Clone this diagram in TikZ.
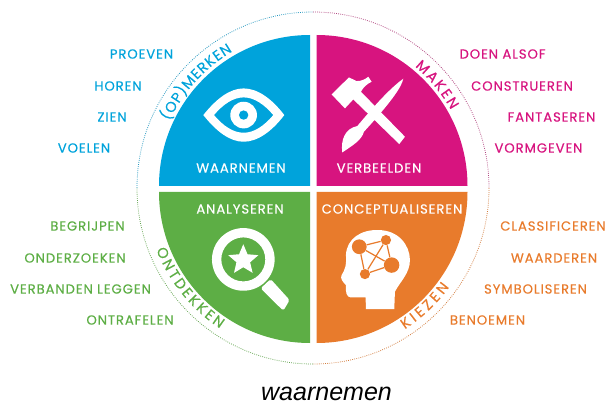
\documentclass[tikz,border=0pt]{standalone}
\usepackage{fontspec}
\usepackage{xcolor}
\usetikzlibrary{decorations.text, shapes.geometric}
\newfontfamily\labelfont[LetterSpace=7,FakeBold=0.35]{Poppins}
\newfontfamily\arcfont[FakeBold=0.25]{Poppins}
\newfontfamily\captionfont{Liberation Sans}
\definecolor{wnblue}{HTML}{00A3DB}
\definecolor{wnpink}{HTML}{D7147F}
\definecolor{wngreen}{HTML}{5DAE45}
\definecolor{wnorange}{HTML}{E87B2C}
\tikzset{
    word/.style = {anchor=center, inner sep=0pt, font=\labelfont\fontsize{7.5}{8}\selectfont},
    dotring/.style = {line width=0.45pt, dash pattern=on 0.45pt off 0.75pt},
    arcword/.style 2 args = {decorate, decoration={text along path, text={|\arcfont\fontsize{8.2}{9}\selectfont\color{#1}|#2}, text align={fit to path}}},
    zoomA/.style = {shift={(#1)}, x=0.0066667cm, y=-0.0066667cm},
}
\begin{document}
\begin{tikzpicture}[x=0.02cm, y=0.02cm]
    \useasboundingbox (0,0) rectangle (605,406);
    % quadrants
    \fill[wnblue] (310,220) -- (159,220) arc (180:90:151) -- cycle;
    \fill[wnpink] (316.5,220) -- (467.5,220) arc (0:90:151) -- cycle;
    \fill[wngreen] (310,214) -- (159,214) arc (180:270:151) -- cycle;
    \fill[wnorange] (316.5,214) -- (467.5,214) arc (0:-90:151) -- cycle;
    % ring and curved words
    \begin{scope}[shift={(313,218)}]
        \draw[dotring, wnblue!70!gray] (180:176) arc (180:90:176);
        \draw[dotring, wnpink!55!gray] (90:176) arc (90:0:176);
        \draw[dotring, wnorange!80!gray] (0:176) arc (0:-90:176);
        \draw[dotring, wngreen!80!gray] (-90:176) arc (-90:-180:176);
        \path[arcword={wnblue}{(OP)MERKEN}] (155:158.5) arc (155:120.5:158.5);
        \path[arcword={wnpink}{MAKEN}] (50:158.5) arc (50:29.5:158.5);
        \path[arcword={wngreen}{ONTDEKKEN}] (201.5:168.5) arc (201.5:236.5:168.5);
        \path[arcword={wnorange}{KIEZEN}] (-57:168.5) arc (-57:-36:168.5);
    \end{scope}
    % words left and right
    \begin{scope}[every node/.style = {word, text=wnblue}]
        \foreach \n/\t/\x/\y in {A/PROEVEN/141.5/352, B/HOREN/118/320, C/ZIEN/112/289, D/VOELEN/84/258}
            \node (L\n) at (\x,\y) {\t};
    \end{scope}
    \begin{scope}[every node/.style = {word, text=wnpink}]
        \foreach \n/\t/\x/\y in {A/DOEN ALSOF/502.5/352, B/CONSTRUEREN/522/320, C/FANTASEREN/551.5/289, D/VORMGEVEN/538.5/258}
            \node (R\n) at (\x,\y) {\t};
    \end{scope}
    \begin{scope}[every node/.style = {word, text=wngreen}]
        \foreach \n/\t/\x/\y in {E/BEGRIJPEN/87.5/180, F/ONDERZOEKEN/75/148, G/VERBANDEN LEGGEN/80.5/117, H/ONTRAFELEN/130/86}
            \node (L\n) at (\x,\y) {\t};
    \end{scope}
    \begin{scope}[every node/.style = {word, text=wnorange}]
        \foreach \n/\t/\x/\y in {E/CLASSIFICEREN/553/180, F/WAARDEREN/554/148, G/SYMBOLISEREN/535.5/117, H/BENOEMEN/487.5/86}
            \node (R\n) at (\x,\y) {\t};
    \end{scope}
    % words inside the quadrants
    \begin{scope}[every node/.style = {word, text=white}]
        \node (Wblue) at (241,238) {WAARNEMEN};
        \node (Wpink) at (379,238) {VERBEELDEN};
        \node (Wgreen) at (240,197) {ANALYSEREN};
        \node (Worange) at (392,197) {CONCEPTUALISEREN};
    \end{scope}
    \node[anchor=center, inner sep=0pt, font=\captionfont\itshape\fontsize{14.25}{16}\selectfont] (Wcaption) at (326.5,12) {waarnemen};
    % eye
    \begin{scope}[zoomA={2.8cm,8.12cm}]
        \fill[white, even odd rule] (190,345) .. controls (230,295) and (270,265) .. (311,265) .. controls (352,265) and (395,295) .. (433,345) .. controls (395,395) and (352,425) .. (311,425) .. controls (270,425) and (230,395) .. (190,345) -- cycle
            (222,345) .. controls (250,312) and (280,292) .. (311,292) .. controls (342,292) and (372,312) .. (400,345) .. controls (372,378) and (342,398) .. (311,398) .. controls (280,398) and (250,378) .. (222,345) -- cycle;
        \fill[white] (311,345) circle (40);
        \fill[wnblue] (311,345) circle (14);
    \end{scope}
    % hammer and brush
    \begin{scope}[zoomA={6cm,8.12cm}]
        \fill[white] (95,283) -- (147,232) -- (170,243) .. controls (185,243) and (195,238) .. (205,230) -- (215,245) .. controls (200,252) and (190,262) .. (183,275) -- (315,410) -- (298,432) -- (160,298) -- (135,325) -- cycle;
        \fill[white] (310,236) .. controls (305,262) and (270,310) .. (192,395) .. controls (185,420) and (160,435) .. (127,457) .. controls (122,420) and (135,385) .. (172,378) .. controls (225,315) and (270,265) .. (310,236) -- cycle;
    \end{scope}
    % magnifier
    \begin{scope}[zoomA={2.8cm,8.12cm}, shift={(0,540)}]
        \fill[white, even odd rule] (310,238) circle (94) (310,238) circle (66);
        \fill[white, rounded corners=1pt] (362,325) -- (392,297) -- (449,360) -- (430,392) -- cycle;
        \node[star, star points=5, star point ratio=2.2, fill=white, minimum size=18pt, inner sep=0pt, anchor=center] (Mstar) at (310,240) {};
    \end{scope}
    % head with network
    \begin{scope}[zoomA={6cm,8.12cm}, shift={(0,540)}]
        \fill[white] (283,387) -- (198,387) -- (197,352) -- (152,352) .. controls (140,352) and (136,335) .. (138,315) .. controls (128,305) and (120,295) .. (125,285) .. controls (135,270) and (140,255) .. (138,225) .. controls (140,175) and (185,148) .. (235,150) .. controls (295,150) and (330,195) .. (330,240) .. controls (330,280) and (300,305) .. (285,335) -- cycle;
        \node[circle, fill=wnorange, minimum size=8.4pt, inner sep=0pt] (Nleft) at (178,200) {};
        \node[circle, fill=wnorange, minimum size=5.8pt, inner sep=0pt] (Ntop) at (258,180) {};
        \node[circle, fill=wnorange, minimum size=8.8pt, inner sep=0pt] (Nright) at (275,255) {};
        \node[circle, fill=wnorange, minimum size=5.8pt, inner sep=0pt] (Nlow) at (195,282) {};
        \draw[wnorange, line width=0.7pt] (Nleft) -- (Ntop);
        \draw[wnorange, line width=0.7pt] (Nleft) -- (Nright);
        \draw[wnorange, line width=0.7pt] (Nleft) -- (Nlow);
        \draw[wnorange, line width=0.7pt] (Ntop) -- (Nright);
        \draw[wnorange, line width=0.7pt] (Ntop) -- (Nlow);
        \draw[wnorange, line width=0.7pt] (Nright) -- (Nlow);
    \end{scope}
\end{tikzpicture}
\end{document}
